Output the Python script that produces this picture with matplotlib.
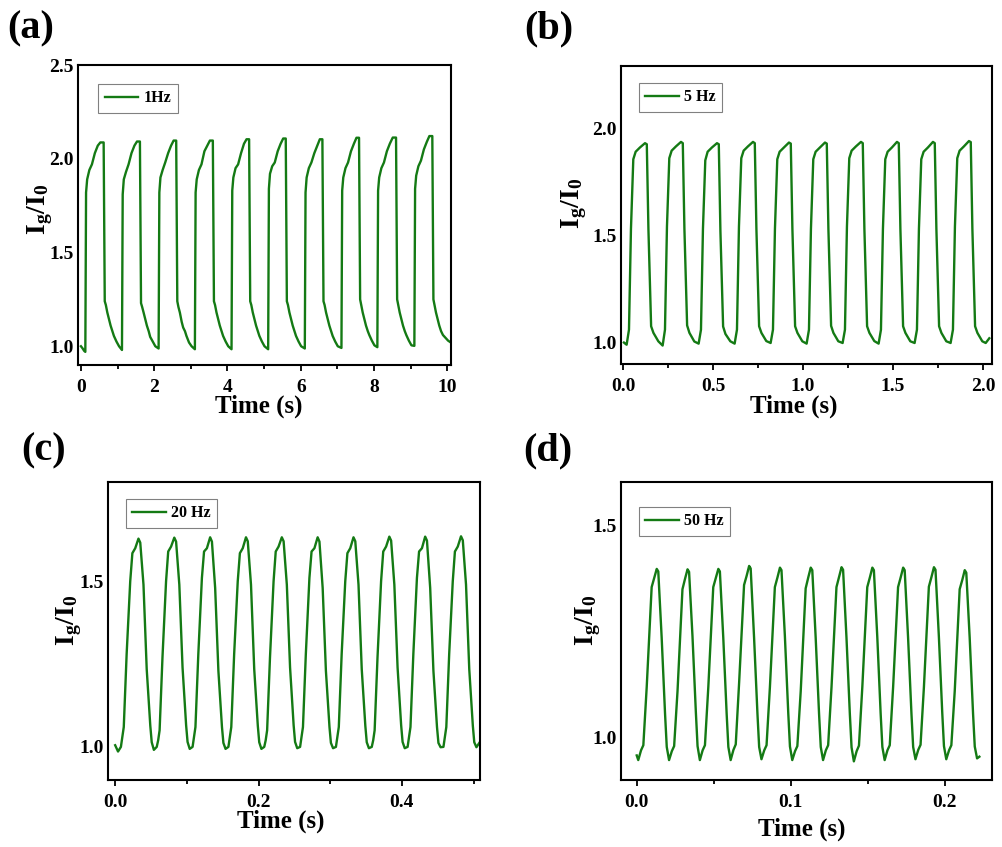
import matplotlib
matplotlib.use("Agg")
import matplotlib.pyplot as plt
from matplotlib.ticker import MultipleLocator, FormatStrFormatter, FixedLocator

# ---------------- data ----------------
a_time = [0.00, 0.04, 0.09, 0.12,
          0.14, 0.17, 0.23, 0.30, 0.38, 0.46, 0.53, 0.62, 0.65, 0.68, 0.72, 0.77, 0.81, 0.86, 0.90, 0.97, 1.04, 1.12,
          1.14, 1.17, 1.23, 1.30, 1.38, 1.46, 1.53, 1.61, 1.64, 1.67, 1.71, 1.76, 1.80, 1.85, 1.89, 1.96, 2.03, 2.12,
          2.14, 2.17, 2.23, 2.30, 2.38, 2.46, 2.53, 2.60, 2.63, 2.66, 2.70, 2.75, 2.79, 2.84, 2.88, 2.95, 3.02, 3.11,
          3.13, 3.16, 3.22, 3.29, 3.37, 3.45, 3.52, 3.60, 3.63, 3.66, 3.70, 3.75, 3.79, 3.84, 3.88, 3.95, 4.02, 4.11,
          4.13, 4.16, 4.22, 4.29, 4.37, 4.45, 4.52, 4.59, 4.62, 4.65, 4.69, 4.74, 4.78, 4.83, 4.87, 4.94, 5.01, 5.11,
          5.13, 5.16, 5.22, 5.29, 5.37, 5.45, 5.52, 5.59, 5.62, 5.65, 5.69, 5.74, 5.78, 5.83, 5.87, 5.94, 6.01, 6.11,
          6.13, 6.16, 6.22, 6.29, 6.37, 6.45, 6.52, 6.59, 6.62, 6.65, 6.69, 6.74, 6.78, 6.83, 6.87, 6.94, 7.01, 7.11,
          7.13, 7.16, 7.22, 7.29, 7.37, 7.45, 7.52, 7.59, 7.62, 7.65, 7.69, 7.74, 7.78, 7.83, 7.87, 7.94, 8.01, 8.09,
          8.11, 8.14, 8.20, 8.27, 8.35, 8.43, 8.51, 8.60, 8.63, 8.66, 8.70, 8.75, 8.79, 8.84, 8.88, 8.95, 9.02, 9.10,
          9.12, 9.15, 9.21, 9.28, 9.36, 9.44, 9.51, 9.59, 9.62, 9.65, 9.69, 9.74, 9.78, 9.83, 9.88, 9.95, 10.02, 10.08]
a_ratio = [1.00, 0.99, 0.975, 0.97,
           1.82, 1.89, 1.94, 1.97, 2.03, 2.07, 2.087, 2.087, 1.24, 1.22, 1.18, 1.14, 1.11, 1.08, 1.055, 1.025, 1.00, 0.98,
           1.81, 1.89, 1.93, 1.97, 2.03, 2.07, 2.092, 2.092, 1.23, 1.21, 1.18, 1.14, 1.11, 1.08, 1.05, 1.025, 1.00, 0.988,
           1.82, 1.90, 1.94, 1.98, 2.03, 2.07, 2.097, 2.097, 1.24, 1.21, 1.18, 1.13, 1.10, 1.08, 1.055, 1.02, 1.00, 0.984,
           1.82, 1.89, 1.94, 1.97, 2.04, 2.07, 2.097, 2.097, 1.24, 1.22, 1.18, 1.14, 1.11, 1.08, 1.055, 1.025, 1.00, 0.984,
           1.83, 1.90, 1.95, 1.97, 2.03, 2.08, 2.104, 2.104, 1.24, 1.22, 1.18, 1.14, 1.11, 1.08, 1.055, 1.025, 1.00, 0.984,
           1.84, 1.92, 1.96, 1.98, 2.04, 2.08, 2.108, 2.108, 1.24, 1.22, 1.18, 1.14, 1.11, 1.08, 1.055, 1.025, 1.00, 0.988,
           1.82, 1.90, 1.95, 1.98, 2.03, 2.07, 2.104, 2.104, 1.24, 1.22, 1.18, 1.14, 1.11, 1.08, 1.055, 1.025, 1.00, 0.991,
           1.83, 1.90, 1.95, 1.98, 2.04, 2.08, 2.112, 2.112, 1.25, 1.22, 1.18, 1.14, 1.11, 1.08, 1.06, 1.03, 1.005, 0.995,
           1.83, 1.90, 1.95, 1.98, 2.04, 2.08, 2.113, 2.113, 1.25, 1.22, 1.18, 1.14, 1.11, 1.08, 1.06, 1.03, 1.005, 1.002,
           1.84, 1.91, 1.96, 1.99, 2.05, 2.09, 2.121, 2.121, 1.25, 1.22, 1.18, 1.14, 1.11, 1.08, 1.06, 1.045, 1.03, 1.022]

b_time = [0.005, 0.012,
          0.020, 0.033, 0.044, 0.057, 0.070, 0.094, 0.122, 0.132, 0.141, 0.156, 0.169, 0.196,
          0.220, 0.233, 0.244, 0.257, 0.270, 0.294, 0.322, 0.332, 0.341, 0.356, 0.369, 0.396,
          0.420, 0.433, 0.444, 0.457, 0.470, 0.494, 0.522, 0.532, 0.541, 0.556, 0.569, 0.596,
          0.620, 0.633, 0.644, 0.657, 0.670, 0.694, 0.722, 0.732, 0.741, 0.756, 0.769, 0.796,
          0.820, 0.833, 0.844, 0.857, 0.870, 0.894, 0.922, 0.932, 0.941, 0.956, 0.969, 0.996,
          1.020, 1.033, 1.044, 1.057, 1.070, 1.094, 1.122, 1.132, 1.141, 1.156, 1.169, 1.196,
          1.220, 1.233, 1.244, 1.257, 1.270, 1.294, 1.322, 1.332, 1.341, 1.356, 1.369, 1.396,
          1.420, 1.433, 1.444, 1.457, 1.470, 1.494, 1.522, 1.532, 1.541, 1.556, 1.569, 1.596,
          1.620, 1.633, 1.644, 1.657, 1.670, 1.694, 1.722, 1.732, 1.741, 1.756, 1.769, 1.796,
          1.820, 1.833, 1.844, 1.857, 1.870, 1.894, 1.922, 1.932, 1.941, 1.956, 1.969, 1.996,
          2.015, 2.035]
b_ratio = [1.000, 0.995,
           0.990, 1.06, 1.53, 1.855, 1.89, 1.91, 1.930, 1.925, 1.53, 1.076, 1.045, 1.006,
           0.986, 1.06, 1.54, 1.86, 1.895, 1.915, 1.936, 1.930, 1.53, 1.080, 1.045, 1.005,
           0.995, 1.06, 1.53, 1.85, 1.89, 1.91, 1.930, 1.925, 1.52, 1.075, 1.040, 1.006,
           0.995, 1.06, 1.54, 1.86, 1.895, 1.915, 1.936, 1.930, 1.53, 1.076, 1.045, 1.007,
           0.998, 1.06, 1.53, 1.855, 1.89, 1.91, 1.933, 1.928, 1.53, 1.076, 1.045, 1.006,
           0.995, 1.06, 1.53, 1.855, 1.89, 1.91, 1.933, 1.928, 1.53, 1.078, 1.045, 1.006,
           0.998, 1.06, 1.54, 1.86, 1.895, 1.915, 1.936, 1.930, 1.53, 1.076, 1.045, 1.007,
           0.995, 1.06, 1.53, 1.855, 1.89, 1.91, 1.936, 1.930, 1.53, 1.076, 1.045, 1.006,
           0.998, 1.06, 1.53, 1.855, 1.89, 1.91, 1.936, 1.930, 1.53, 1.076, 1.045, 1.006,
           0.998, 1.06, 1.54, 1.86, 1.895, 1.915, 1.940, 1.935, 1.53, 1.076, 1.045, 1.006,
           0.998, 1.020]

c_time = [0.000,
          0.004, 0.008, 0.010, 0.012, 0.016, 0.021, 0.024, 0.028, 0.0325, 0.035, 0.0395, 0.044, 0.049, 0.051,
          0.054, 0.058, 0.060, 0.062, 0.066, 0.071, 0.074, 0.078, 0.0825, 0.085, 0.0895, 0.094, 0.099, 0.101,
          0.104, 0.108, 0.110, 0.112, 0.116, 0.121, 0.124, 0.128, 0.1325, 0.135, 0.1395, 0.144, 0.149, 0.151,
          0.154, 0.158, 0.160, 0.162, 0.166, 0.171, 0.174, 0.178, 0.1825, 0.185, 0.1895, 0.194, 0.199, 0.201,
          0.204, 0.208, 0.210, 0.212, 0.216, 0.221, 0.224, 0.228, 0.2325, 0.235, 0.2395, 0.244, 0.249, 0.251,
          0.254, 0.258, 0.260, 0.262, 0.266, 0.271, 0.274, 0.278, 0.2825, 0.285, 0.2895, 0.294, 0.299, 0.301,
          0.304, 0.308, 0.310, 0.312, 0.316, 0.321, 0.324, 0.328, 0.3325, 0.335, 0.3395, 0.344, 0.349, 0.351,
          0.354, 0.358, 0.360, 0.362, 0.366, 0.371, 0.374, 0.378, 0.3825, 0.385, 0.3895, 0.394, 0.399, 0.401,
          0.404, 0.408, 0.410, 0.412, 0.416, 0.421, 0.424, 0.428, 0.4325, 0.435, 0.4395, 0.444, 0.449, 0.451,
          0.454, 0.458, 0.460, 0.462, 0.466, 0.471, 0.474, 0.478, 0.4825, 0.485, 0.4895, 0.494, 0.499, 0.501,
          0.504, 0.508]
c_ratio = [1.005,
           0.986, 1.00, 1.03, 1.06, 1.28, 1.50, 1.585, 1.600, 1.629, 1.617, 1.49, 1.235, 1.064, 1.014,
           0.991, 1.00, 1.02, 1.05, 1.27, 1.50, 1.590, 1.605, 1.632, 1.620, 1.49, 1.240, 1.065, 1.015,
           0.994, 1.00, 1.03, 1.06, 1.28, 1.51, 1.590, 1.600, 1.633, 1.620, 1.48, 1.230, 1.060, 1.012,
           0.994, 1.00, 1.03, 1.06, 1.28, 1.50, 1.585, 1.600, 1.633, 1.621, 1.49, 1.235, 1.064, 1.014,
           0.994, 1.00, 1.02, 1.05, 1.27, 1.50, 1.590, 1.605, 1.633, 1.621, 1.49, 1.240, 1.065, 1.015,
           0.996, 1.00, 1.03, 1.06, 1.28, 1.51, 1.590, 1.600, 1.633, 1.620, 1.48, 1.230, 1.060, 1.012,
           0.996, 1.00, 1.03, 1.06, 1.28, 1.50, 1.585, 1.600, 1.633, 1.621, 1.49, 1.235, 1.064, 1.014,
           0.996, 1.00, 1.02, 1.05, 1.27, 1.50, 1.590, 1.605, 1.635, 1.623, 1.49, 1.240, 1.065, 1.015,
           0.996, 1.00, 1.03, 1.06, 1.28, 1.51, 1.590, 1.600, 1.635, 1.623, 1.48, 1.230, 1.060, 1.012,
           0.999, 1.00, 1.03, 1.06, 1.28, 1.50, 1.590, 1.605, 1.636, 1.624, 1.49, 1.235, 1.064, 1.014,
           0.999, 1.012]

d_time = [0.0000,
          0.0010, 0.0028, 0.0043, 0.0065, 0.0086, 0.0097, 0.0114, 0.0130, 0.0140, 0.0162, 0.0184, 0.0195,
          0.0210, 0.0228, 0.0243, 0.0265, 0.0286, 0.0297, 0.0314, 0.0330, 0.0340, 0.0362, 0.0384, 0.0395,
          0.0410, 0.0428, 0.0443, 0.0465, 0.0486, 0.0497, 0.0514, 0.0530, 0.0540, 0.0562, 0.0584, 0.0595,
          0.0610, 0.0628, 0.0643, 0.0665, 0.0686, 0.0697, 0.0714, 0.0730, 0.0740, 0.0762, 0.0784, 0.0795,
          0.0810, 0.0828, 0.0843, 0.0865, 0.0886, 0.0897, 0.0914, 0.0930, 0.0940, 0.0962, 0.0984, 0.0995,
          0.1010, 0.1028, 0.1043, 0.1065, 0.1086, 0.1097, 0.1114, 0.1130, 0.1140, 0.1162, 0.1184, 0.1195,
          0.1210, 0.1228, 0.1243, 0.1265, 0.1286, 0.1297, 0.1314, 0.1330, 0.1340, 0.1362, 0.1384, 0.1395,
          0.1410, 0.1428, 0.1443, 0.1465, 0.1486, 0.1497, 0.1514, 0.1530, 0.1540, 0.1562, 0.1584, 0.1595,
          0.1610, 0.1628, 0.1643, 0.1665, 0.1686, 0.1697, 0.1714, 0.1730, 0.1740, 0.1762, 0.1784, 0.1795,
          0.1810, 0.1828, 0.1843, 0.1865, 0.1886, 0.1897, 0.1914, 0.1930, 0.1940, 0.1962, 0.1984, 0.1995,
          0.2010, 0.2028, 0.2043, 0.2065, 0.2086, 0.2097, 0.2114, 0.2130, 0.2140, 0.2162, 0.2184, 0.2195,
          0.2210, 0.2225]
d_ratio = [0.958,
           0.947, 0.970, 0.982, 1.12, 1.275, 1.355, 1.377, 1.398, 1.392, 1.236, 1.056, 0.978,
           0.947, 0.968, 0.980, 1.11, 1.270, 1.350, 1.375, 1.397, 1.391, 1.240, 1.060, 0.980,
           0.947, 0.970, 0.982, 1.12, 1.275, 1.355, 1.377, 1.398, 1.392, 1.236, 1.056, 0.978,
           0.947, 0.971, 0.984, 1.13, 1.280, 1.360, 1.382, 1.405, 1.399, 1.236, 1.056, 0.978,
           0.949, 0.970, 0.982, 1.12, 1.275, 1.355, 1.378, 1.401, 1.395, 1.240, 1.058, 0.979,
           0.947, 0.968, 0.980, 1.11, 1.270, 1.352, 1.378, 1.401, 1.395, 1.236, 1.056, 0.978,
           0.947, 0.970, 0.982, 1.12, 1.275, 1.355, 1.379, 1.402, 1.396, 1.236, 1.055, 0.977,
           0.944, 0.968, 0.981, 1.12, 1.272, 1.355, 1.378, 1.401, 1.395, 1.238, 1.056, 0.978,
           0.947, 0.970, 0.982, 1.12, 1.275, 1.355, 1.378, 1.401, 1.395, 1.236, 1.056, 0.978,
           0.949, 0.971, 0.983, 1.12, 1.276, 1.356, 1.379, 1.402, 1.396, 1.238, 1.058, 0.980,
           0.949, 0.970, 0.982, 1.11, 1.270, 1.350, 1.372, 1.395, 1.389, 1.236, 1.056, 0.979,
           0.951, 0.955]

panel_tags = ["(a)", "(b)", "(c)", "(d)"]
legend_labels = ["1Hz", "5 Hz", "20 Hz", "50 Hz"]
y_ticks = [[1.0, 1.5, 2.0, 2.5], [1.0, 1.5, 2.0], [1.0, 1.5], [1.0, 1.5]]
x_label = "Time (s)"
y_label = r"$\mathrm{I_g/I_0}$"

# ---------------- style ----------------
plt.rcParams.update({
    "font.family": "Liberation Serif",
    "font.weight": "bold",
    "mathtext.fontset": "custom",
    "mathtext.rm": "Liberation Serif:bold",
    "mathtext.it": "Liberation Serif:bold:italic",
    "mathtext.bf": "Liberation Serif:bold",
})
GREEN = "#147a14"
W, H = 1002, 847

fig = plt.figure(figsize=(W / 100, H / 100), dpi=100, facecolor="white")


def rect(l, r, t, b):
    return [l / W, 1 - b / H, (r - l) / W, (b - t) / H]


panels = [
    dict(data=(a_time, a_ratio), rect=rect(78, 451, 65, 365), xlim=(-0.08, 10.1), ylim=(0.9, 2.5),
         xmaj=2, xmin=1, fmt="%d", xlab=(0.485, -0.138), ylab=(-0.102, 0.52), leg=(0.054, 0.937),
         tag=(7, 29)),
    dict(data=(b_time, b_ratio), rect=rect(620.7, 992, 66, 364), xlim=(-0.013, 2.05), ylim=(0.9, 2.29),
         xmaj=0.5, xmin=0.25, fmt="%.1f", xlab=(0.466, -0.142), ylab=(-0.126, 0.539), leg=(0.049, 0.943),
         tag=(524, 29)),
    dict(data=(c_time, c_ratio), rect=rect(108, 480, 482, 780), xlim=(-0.01, 0.509), ylim=(0.9, 1.8),
         xmaj=0.2, xmin=0.1, fmt="%.1f", xlab=(0.465, -0.140), ylab=(-0.105, 0.537), leg=(0.048, 0.943),
         tag=(21, 451)),
    dict(data=(d_time, d_ratio), rect=rect(620.7, 991.7, 482, 780), xlim=(-0.0104, 0.2305), ylim=(0.9, 1.603),
         xmaj=0.1, xmin=0.05, fmt="%.1f", xlab=(0.489, -0.166), ylab=(-0.088, 0.537), leg=(0.049, 0.916),
         tag=(523, 451)),
]

for i, p in enumerate(panels):
    ax = fig.add_axes(p["rect"])
    t, y = p["data"]
    ax.plot(t, y, color=GREEN, lw=1.7, label=legend_labels[i])
    ax.set_xlim(*p["xlim"])
    ax.set_ylim(*p["ylim"])
    ax.xaxis.set_major_locator(MultipleLocator(p["xmaj"]))
    ax.xaxis.set_minor_locator(MultipleLocator(p["xmin"]))
    ax.xaxis.set_major_formatter(FormatStrFormatter(p["fmt"]))
    ax.yaxis.set_major_locator(FixedLocator(y_ticks[i]))
    ax.yaxis.set_major_formatter(FormatStrFormatter("%.1f"))
    ax.tick_params(axis="x", which="major", direction="out", length=4, width=1.3, pad=6, labelsize=14)
    ax.tick_params(axis="x", which="minor", direction="out", length=3, width=1.3)
    ax.tick_params(axis="y", which="both", length=0, pad=3, labelsize=14)
    for lab in ax.get_xticklabels() + ax.get_yticklabels():
        lab.set_fontweight("bold")
    for s in ax.spines.values():
        s.set_linewidth(1.5)
    ax.set_xlabel(x_label, fontsize=18, fontweight="bold", va="center")
    ax.xaxis.set_label_coords(*p["xlab"])
    ax.set_ylabel(y_label, fontsize=20, va="center")
    ax.yaxis.set_label_coords(*p["ylab"])
    leg = ax.legend(loc="upper left", bbox_to_anchor=p["leg"], borderaxespad=0, fancybox=False,
                    edgecolor="#808080", framealpha=1, handlelength=2.1, handletextpad=0.35,
                    borderpad=0.4, prop={"size": 11.5, "weight": "bold"})
    leg.get_frame().set_linewidth(0.8)
    tx, ty = p["tag"]
    fig.text(tx / W, 1 - ty / H, panel_tags[i], fontsize=29, fontweight="bold", ha="left", va="center")

fig.savefig("out.png", dpi=100, facecolor="white")
